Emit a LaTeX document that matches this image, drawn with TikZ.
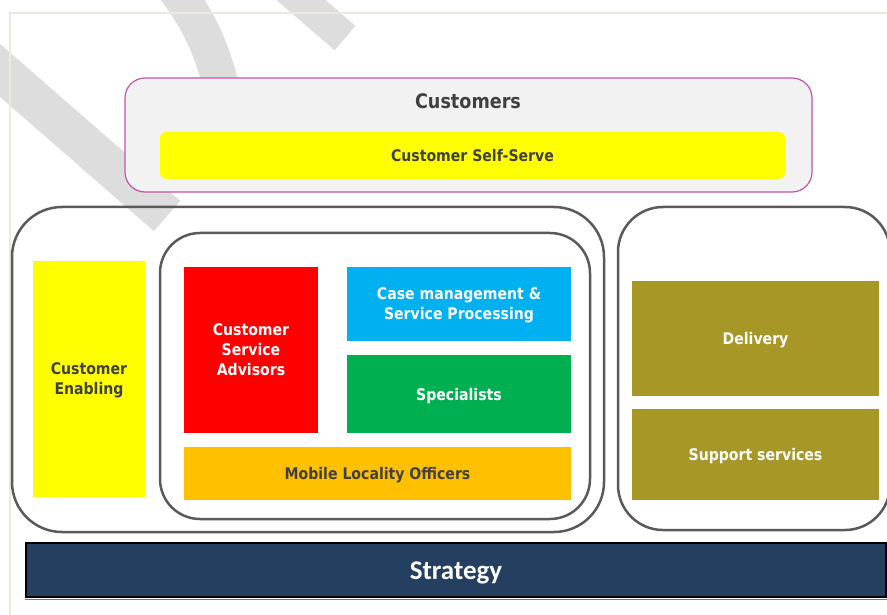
\documentclass[tikz,border=0pt]{standalone}
\usepackage{fontspec}
\setmainfont{DejaVu Sans}[FakeStretch=0.88]
\newfontfamily\stratfont{Carlito}
\usepackage{tikz}

\definecolor{boxtext}{HTML}{404040}
\definecolor{groupline}{HTML}{5A5A5A}
\definecolor{custline}{RGB}{196,84,168}
\definecolor{custfill}{HTML}{F2F2F2}
\definecolor{selfyellow}{HTML}{FFFF00}
\definecolor{advisorred}{HTML}{FF0000}
\definecolor{caseblue}{HTML}{00B0F0}
\definecolor{specgreen}{HTML}{00B050}
\definecolor{mobileorange}{HTML}{FFC000}
\definecolor{deliveryolive}{HTML}{A69726}
\definecolor{strategynavy}{HTML}{243F60}
\definecolor{stripegray}{HTML}{DDDDDD}
\definecolor{pageframe}{HTML}{ECE9DE}

\begin{document}
\begin{tikzpicture}[x=1pt, y=-1pt,
    tile/.style={rectangle, inner sep=0pt, align=center, text depth=0pt, font=\bfseries\fontsize{16}{20}\selectfont},
    darktile/.style={tile, text=boxtext},
    lighttile/.style={tile, text=white},
    group/.style={rectangle, draw=groupline, line width=2.5pt},
    stripe/.style={draw=stripegray, line width=40pt}]

    \useasboundingbox (0,0) rectangle (887,615);
    \clip (0,0) rectangle (887,615);

    % Watermark strokes in the back
    \draw[stripe] (-20,53) -- (167,216);
    \draw[stripe, line width=36pt] (168,-20) .. controls (200,20) and (222,60) .. (232,150);
    \draw[stripe, line width=32pt] (280,-18) -- (345,38);

    % Page frame
    \draw[pageframe, line width=1.5pt] (10,615) -- (10,13) -- (887,13);

    % Customers band
    \node[rectangle, draw=custline, fill=custfill, line width=1.2pt, rounded corners=20pt,
          minimum width=687pt, minimum height=114pt] (customers) at (468.5,135) {};
    \node[text=boxtext, font=\bfseries\fontsize{20}{24}\selectfont] (custlabel) at (468,101.5) {Customers};
    \node[darktile, fill=selfyellow, rounded corners=6pt,
          minimum width=625pt, minimum height=47pt] (selfserve) at (472.5,155.5) {Customer Self-Serve};

    % Grouping outlines
    \node[group, rounded corners=50pt, minimum width=592pt, minimum height=325pt] (frontgroup) at (308,369.5) {};
    \node[group, rounded corners=40pt, minimum width=430pt, minimum height=286pt] (servicegroup) at (375,376) {};
    \node[group, fill=white, rounded corners=45pt, minimum width=272pt, minimum height=323pt] (backgroup) at (754,368.5) {};

    % Front office tiles
    \node[darktile, fill=selfyellow, minimum width=112pt, minimum height=236pt] (enabling) at (89,379) {Customer\\Enabling};
    \node[lighttile, fill=advisorred, minimum width=134pt, minimum height=166pt] (advisors) at (251,350) {Customer\\Service\\Advisors};
    \node[lighttile, fill=caseblue, minimum width=224pt, minimum height=74pt] (casemgmt) at (459,304) {Case management \&\\Service Processing};
    \node[lighttile, fill=specgreen, minimum width=224pt, minimum height=78pt] (specialists) at (459,394) {Specialists};
    \node[darktile, fill=mobileorange, minimum width=387pt, minimum height=53pt] (mobile) at (377.5,473.5) {Mobile Locality Officers};

    % Back office tiles
    \node[lighttile, fill=deliveryolive, minimum width=247pt, minimum height=115pt] (delivery) at (755.5,338.5) {Delivery};
    \node[lighttile, fill=deliveryolive, minimum width=247pt, minimum height=91pt] (support) at (755.5,454.5) {Support services};

    % Strategy bar
    \node[rectangle, draw=black, line width=1.5pt, fill=strategynavy, text=white, text depth=0pt,
          font=\stratfont\bfseries\fontsize{27}{30}\selectfont,
          minimum width=860pt, minimum height=54pt] (strategy) at (456,570) {\raisebox{-1.5pt}{Strategy}};
    \draw[custline!80!magenta, line width=1.5pt] ([yshift=-1.5pt]strategy.south west) -- ([yshift=-1.5pt]strategy.south east);

\end{tikzpicture}
\end{document}
